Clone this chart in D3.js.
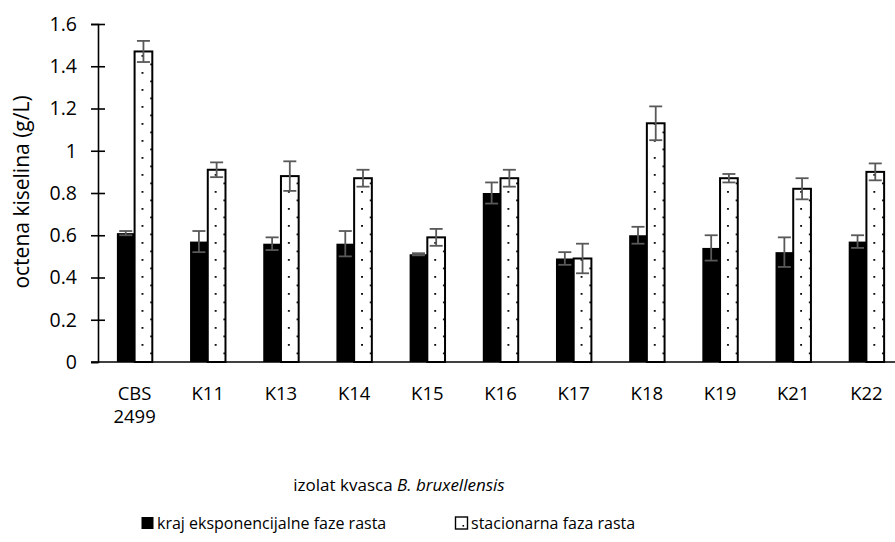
<!DOCTYPE html>
<html>
<head>
<meta charset="utf-8">
<script src="https://cdn.jsdelivr.net/npm/d3@7"></script>
<style>
  body { margin: 0; background: #fff; }
  svg text { font-family: "Open Sans", Lato, sans-serif; fill: #000; }
</style>
</head>
<body>
<svg id="chart" width="895" height="542"></svg>
<script>
// categories (yeast isolates), multi-line labels split on '\n'
const isolates = ['CBS\n2499', 'K11', 'K13', 'K14', 'K15', 'K16', 'K17', 'K18', 'K19', 'K21', 'K22'];

// end of exponential phase
const expValues = [0.61, 0.57, 0.56, 0.56, 0.51, 0.80, 0.49, 0.60, 0.54, 0.52, 0.57];
const expErrors = [0.01, 0.05, 0.03, 0.06, 0.005, 0.05, 0.03, 0.04, 0.06, 0.07, 0.03];

// stationary phase
const statValues = [1.47, 0.91, 0.88, 0.87, 0.59, 0.87, 0.49, 1.13, 0.87, 0.82, 0.90];
const statErrors = [0.05, 0.035, 0.07, 0.04, 0.04, 0.04, 0.07, 0.08, 0.02, 0.05, 0.04];

const seriesNames = ['kraj eksponencijalne faze rasta', 'stacionarna faza rasta'];
const yTicks = [0, 0.2, 0.4, 0.6, 0.8, 1, 1.2, 1.4, 1.6];

const svg = d3.select('#chart');

const margin = {top: 24, left: 98},
    plotBottom = 362,
    plotRight = 903;

// dotted fill for the stationary-phase bars
const defs = svg.append('defs');
const pat = defs.append('pattern')
    .attr('id', 'dots')
    .attr('patternUnits', 'userSpaceOnUse')
    .attr('width', 17.4)
    .attr('height', 17)
    .attr('x', 4)
    .attr('y', 2);
pat.append('rect').attr('width', 17.4).attr('height', 17).attr('fill', '#fff');
pat.append('rect').attr('x', 3).attr('y', 2).attr('width', 1.8).attr('height', 1.8).attr('fill', '#000');
pat.append('rect').attr('x', 11.7).attr('y', 10.5).attr('width', 1.8).attr('height', 1.8).attr('fill', '#000');

const x0 = d3.scaleBand()
    .domain(isolates)
    .range([margin.left, plotRight]);

const barW = x0.bandwidth() * 0.242;

const y = d3.scaleLinear()
    .domain([0, 1.6])
    .range([plotBottom, margin.top]);

const data = isolates.map(function(c, i) {
  return [
    {cat: c, key: 0, value: expValues[i], err: expErrors[i]},
    {cat: c, key: 1, value: statValues[i], err: statErrors[i]}
  ];
});

const groups = svg.append('g')
    .selectAll('g')
    .data(data)
    .enter().append('g')
    .attr('transform', function(d) { return 'translate(' + (x0(d[0].cat) + x0.bandwidth() / 2) + ',0)'; });

groups.selectAll('rect')
    .data(function(d) { return d; })
    .enter().append('rect')
    .attr('x', function(d) { return d.key === 0 ? -barW : 0; })
    .attr('width', barW)
    .attr('y', function(d) { return y(d.value); })
    .attr('height', function(d) { return y(0) - y(d.value); })
    .attr('fill', function(d) { return d.key === 0 ? '#000' : 'url(#dots)'; })
    .attr('stroke', '#000')
    .attr('stroke-width', function(d) { return d.key === 0 ? 0 : 2; });

// error bars
const capW = 13;
const eb = groups.selectAll('g.err')
    .data(function(d) { return d; })
    .enter().append('g')
    .attr('class', 'err')
    .attr('stroke', '#595959')
    .attr('stroke-width', 1.8)
    .attr('transform', function(d) { return 'translate(' + (d.key === 0 ? -barW / 2 : barW / 2) + ',0)'; });

eb.append('line')
    .attr('x1', 0).attr('x2', 0)
    .attr('y1', function(d) { return y(d.value + d.err); })
    .attr('y2', function(d) { return y(d.value - d.err); });
eb.append('line')
    .attr('x1', -capW / 2).attr('x2', capW / 2)
    .attr('y1', function(d) { return y(d.value + d.err); })
    .attr('y2', function(d) { return y(d.value + d.err); });
eb.append('line')
    .attr('x1', -capW / 2).attr('x2', capW / 2)
    .attr('y1', function(d) { return y(d.value - d.err); })
    .attr('y2', function(d) { return y(d.value - d.err); });

// y axis
const yAxis = svg.append('g')
    .attr('transform', 'translate(' + margin.left + ',0)')
    .call(d3.axisLeft(y)
        .tickValues(yTicks)
        .tickSize(7)
        .tickPadding(14)
        .tickFormat(function(d) { return String(+d.toFixed(1)); }));
yAxis.select('.domain').attr('stroke', '#000').attr('stroke-width', 1.6);
yAxis.selectAll('.tick line')
    .attr('x1', -7).attr('x2', 7)
    .attr('stroke', '#000').attr('stroke-width', 1.6);
yAxis.selectAll('.tick text')
    .style('font-size', '19.5px')
    .attr('fill', '#000');
yAxis.selectAll('.tick').filter(function(d) { return d === 0; }).select('line').attr('x2', 0);

// x axis baseline
svg.append('line')
    .attr('x1', margin.left - 7).attr('x2', plotRight)
    .attr('y1', y(0)).attr('y2', y(0))
    .attr('stroke', '#000').attr('stroke-width', 1.6);

// x labels
const xl = svg.append('g')
    .selectAll('text')
    .data(isolates)
    .enter().append('text')
    .attr('text-anchor', 'middle')
    .attr('x', function(d) { return x0(d) + x0.bandwidth() / 2; })
    .attr('y', 400)
    .style('font-size', '18.5px');
xl.selectAll('tspan')
    .data(function(d) { return d.split('\n'); })
    .enter().append('tspan')
    .attr('x', function() { return d3.select(this.parentNode).attr('x'); })
    .attr('dy', function(d, i) { return i === 0 ? 0 : 23; })
    .text(function(d) { return d; });

// axis titles
svg.append('text')
    .attr('transform', 'translate(29,192)rotate(-90)')
    .attr('text-anchor', 'middle')
    .style('font-size', '21px')
    .text('octena kiselina (g/L)');

const xt = svg.append('text')
    .attr('x', 399)
    .attr('y', 491)
    .attr('text-anchor', 'middle')
    .style('font-size', '17px');
xt.append('tspan').text('izolat kvasca ');
xt.append('tspan').style('font-style', 'italic').text('B. bruxellensis');

// legend
const legendX = [141, 455];
const legend = svg.append('g')
    .selectAll('g')
    .data(seriesNames)
    .enter().append('g')
    .attr('transform', function(d, i) { return 'translate(' + legendX[i] + ',523)'; });

legend.append('rect')
    .attr('x', 0.5).attr('y', -6)
    .attr('width', 12).attr('height', 12)
    .attr('fill', function(d, i) { return i === 0 ? '#000' : '#fff'; })
    .attr('stroke', '#000')
    .attr('stroke-width', function(d, i) { return i === 0 ? 0 : 1.4; });
legend.filter(function(d, i) { return i === 1; }).append('rect')
    .attr('x', 7.5).attr('y', 2).attr('width', 1.6).attr('height', 1.6).attr('fill', '#000');

legend.append('text')
    .attr('x', 16)
    .attr('dy', '0.36em')
    .style('font-size', '16px')
    .text(function(d) { return d; });
</script>
</body>
</html>
